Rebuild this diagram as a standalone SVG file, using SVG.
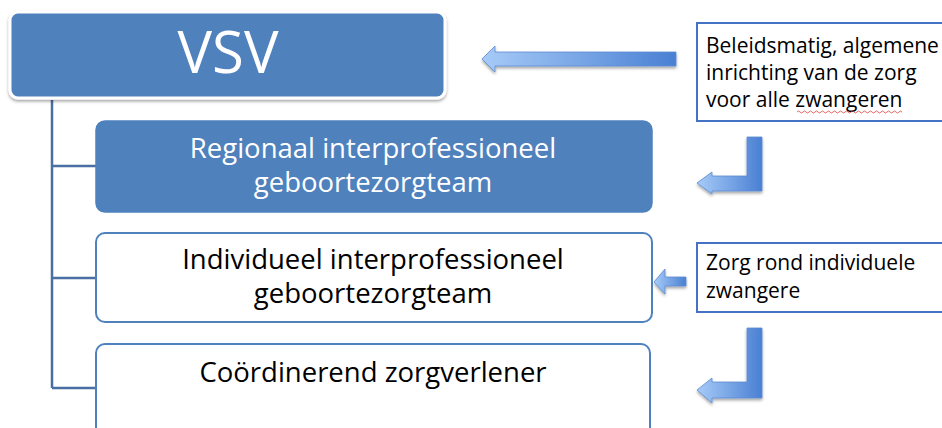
<svg xmlns="http://www.w3.org/2000/svg" width="942" height="428" viewBox="0 0 942 428">
<style>
.t{font-family:"Open Sans","Noto Sans","Liberation Sans",sans-serif;text-anchor:middle}
.w{fill:#ffffff}
.k{fill:#000000}
.s{font-family:"Open Sans","Noto Sans","Liberation Sans",sans-serif;fill:#000000;font-size:21px}
.filled{fill:#4F81BD;stroke:#4F81BD;stroke-width:1.5}
.outl{fill:#ffffff;stroke:#4F81BD;stroke-width:2}
.note{fill:#ffffff;stroke:#4472C4;stroke-width:2}
.conn{fill:none;stroke:#4A6FA5;stroke-width:2.5}
.arr{fill:url(#g);stroke:#5B8BD0;stroke-width:0.8}
</style>
<defs>
<linearGradient id="g" x1="0" y1="0" x2="1" y2="0">
<stop offset="0" stop-color="#A7CBF8"/>
<stop offset="1" stop-color="#4A80D3"/>
</linearGradient>
<filter id="sh" x="-5%" y="-10%" width="110%" height="130%">
<feDropShadow dx="0" dy="2" stdDeviation="1.5" flood-color="#000000" flood-opacity="0.35"/>
</filter>
</defs>

<g id="connectors">
<path class="conn" d="M52 100 V388 M52 166 H96 M52 278 H96 M52 388 H96"/>
</g>

<g id="vsv">
<rect x="10" y="12" width="435" height="86" rx="8" fill="#4F81BD" stroke="#ffffff" stroke-width="3" filter="url(#sh)"/>
<text class="t w" x="228" y="73" font-size="58">VSV</text>
</g>

<g id="regionaal">
<rect class="filled" x="96" y="121" width="556" height="91" rx="9"/>
<text class="t w" x="373" y="158" font-size="27.5">Regionaal interprofessioneel</text>
<text class="t w" x="373" y="192" font-size="27.5">geboortezorgteam</text>
</g>

<g id="individueel">
<rect class="outl" x="96" y="233" width="556" height="89" rx="9"/>
<text class="t k" x="373" y="269" font-size="27.5">Individueel interprofessioneel</text>
<text class="t k" x="373" y="303" font-size="27.5">geboortezorgteam</text>
</g>

<g id="coordinerend">
<rect class="outl" x="96" y="344" width="554" height="100" rx="9"/>
<text class="t k" x="373" y="382" font-size="27.5">Coördinerend zorgverlener</text>
</g>

<g id="note1">
<rect class="note" x="697" y="23" width="250" height="98"/>
<text class="s" x="706" y="53">Beleidsmatig, algemene</text>
<text class="s" x="706" y="80">inrichting van de zorg</text>
<text class="s" x="706" y="107">voor alle zwangeren</text>
<path d="M797 112 q1.5 -2 3 0 t3 0 t3 0 t3 0 t3 0 t3 0 t3 0 t3 0 t3 0 t3 0 t3 0 t3 0 t3 0 t3 0 t3 0 t3 0 t3 0 t3 0 t3 0 t3 0 t3 0 t3 0 t3 0 t3 0 t3 0 t3 0 t3 0 t3 0 t3 0 t3 0 t3 0 t3 0 t3 0 t3 0 t3 0" fill="none" stroke="#E04040" stroke-width="0.8"/>
</g>

<g id="note2">
<rect class="note" x="697" y="243" width="250" height="69"/>
<text class="s" x="706" y="270">Zorg rond individuele</text>
<text class="s" x="706" y="298">zwangere</text>
</g>

<g id="arrows">
<path class="arr" filter="url(#sh)" d="M482 59 L495 46 L495 52 L676 52 L676 66 L495 66 L495 72 Z"/>
<path class="arr" filter="url(#sh)" d="M697 183 L712 172 L712 176 L747 176 L747 137 L762 137 L762 191 L712 191 L712 194 Z"/>
<path class="arr" filter="url(#sh)" d="M654 282 L665 269 L665 277 L686 277 L686 286 L665 286 L665 294 Z"/>
<path class="arr" filter="url(#sh)" d="M697 390 L712 378 L712 382 L747 382 L747 328 L762 328 L762 398 L712 398 L712 403 Z"/>
</g>
</svg>
